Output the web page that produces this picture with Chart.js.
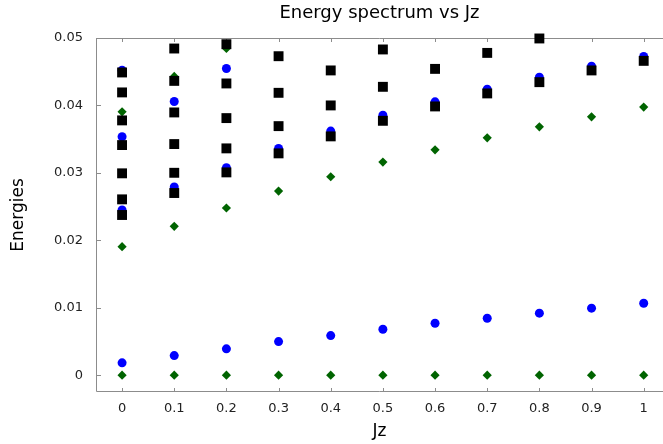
<!DOCTYPE html>
<html>
<head>
<meta charset="utf-8">
<script src="https://cdn.jsdelivr.net/npm/chart.js@4"></script>
<style>
  html, body { margin: 0; padding: 0; background: #fff; overflow: hidden; }
</style>
</head>
<body>
<canvas id="spectrum" width="663" height="444"></canvas>
<script>
// --- DATA ---
const jz = [0, 0.1, 0.2, 0.3, 0.4, 0.5, 0.6, 0.7, 0.8, 0.9, 1];

// energy levels per Jz value, one inner list per column
const blueLevels = [
    [0.00182, 0.02449, 0.03535, 0.04523],
    [0.0029, 0.0279, 0.04059],
    [0.0039, 0.03076, 0.04548],
    [0.00498, 0.03363],
    [0.00587, 0.03619],
    [0.00681, 0.03856],
    [0.0077, 0.04053],
    [0.00844, 0.04241],
    [0.00919, 0.04419],
    [0.00993, 0.04582],
    [0.01067, 0.04726]
];
const greenLevels = [
    [0, 0.01905, 0.03905],
    [0, 0.02207, 0.0443],
    [0, 0.02479, 0.04844],
    [0, 0.0273],
    [0, 0.02942],
    [0, 0.0316],
    [0, 0.03342],
    [0, 0.0352],
    [0, 0.03683],
    [0, 0.03831],
    [0, 0.03975]
];
const blackLevels = [
    [0.02375, 0.02607, 0.02993, 0.03412, 0.03778, 0.04193, 0.04489],
    [0.02701, 0.03001, 0.03427, 0.03896, 0.04364, 0.04844],
    [0.03007, 0.03363, 0.03812, 0.04326, 0.04908],
    [0.03289, 0.03693, 0.04187, 0.0473],
    [0.03541, 0.04, 0.04519],
    [0.03772, 0.04276, 0.0483],
    [0.03985, 0.04542],
    [0.04178, 0.04779],
    [0.04345, 0.04993],
    [0.04519],
    [0.04661]
];

const xTicks = [0, 0.1, 0.2, 0.3, 0.4, 0.5, 0.6, 0.7, 0.8, 0.9, 1];
const xTickLabels = ['0', '0.1', '0.2', '0.3', '0.4', '0.5', '0.6', '0.7', '0.8', '0.9', '1'];
const yTicks = [0, 0.01, 0.02, 0.03, 0.04, 0.05];
const yTickLabels = ['0', '0.01', '0.02', '0.03', '0.04', '0.05'];

function toPoints(levels) {
    return levels.flatMap((col, i) => col.map(e => ({ x: jz[i], y: e })));
}

// frame on top/left/bottom with small inward ticks
const framePlugin = {
    id: 'frame',
    beforeDatasetsDraw(chart) {
        const { ctx, chartArea: a, scales: { x, y } } = chart;
        ctx.save();
        ctx.lineWidth = 1;
        ctx.strokeStyle = '#8c8c8c';
        ctx.beginPath();
        ctx.moveTo(a.right, a.top + 0.5);
        ctx.lineTo(a.left + 0.5, a.top + 0.5);
        ctx.lineTo(a.left + 0.5, a.bottom - 0.5);
        ctx.lineTo(a.right, a.bottom - 0.5);
        x.ticks.forEach(t => {
            const px = Math.round(x.getPixelForValue(t.value)) + 0.5;
            ctx.moveTo(px, a.top);
            ctx.lineTo(px, a.top + 4);
            ctx.moveTo(px, a.bottom);
            ctx.lineTo(px, a.bottom - 4);
        });
        y.ticks.forEach(t => {
            const py = Math.round(y.getPixelForValue(t.value)) + 0.5;
            ctx.moveTo(a.left, py);
            ctx.lineTo(a.left + 5, py);
        });
        ctx.stroke();
        ctx.restore();
    }
};

Chart.defaults.font.family = '"DejaVu Sans", sans-serif';

new Chart(document.getElementById('spectrum'), {
    type: 'scatter',
    data: {
        datasets: [
            {
                label: 'black',
                data: toPoints(blackLevels),
                pointStyle: 'rect',
                radius: 7,
                borderWidth: 0,
                backgroundColor: '#000',
                borderColor: '#000',
                clip: false
            },
            {
                label: 'green',
                data: toPoints(greenLevels),
                pointStyle: 'rectRot',
                radius: 4.6,
                borderWidth: 0,
                backgroundColor: '#006400',
                borderColor: '#006400',
                clip: false
            },
            {
                label: 'blue',
                data: toPoints(blueLevels),
                pointStyle: 'circle',
                radius: 4.5,
                borderWidth: 0,
                backgroundColor: '#0000ff',
                borderColor: '#0000ff',
                clip: false
            }
        ]
    },
    options: {
        responsive: false,
        animation: false,
        devicePixelRatio: 1,
        layout: { padding: 0, autoPadding: false },
        plugins: {
            legend: { display: false },
            tooltip: { enabled: false },
            title: {
                display: true,
                fullSize: false,
                text: 'Energy spectrum vs Jz',
                color: '#000',
                font: { size: 18, weight: 'normal' },
                padding: { top: 3, bottom: 13.4 }
            }
        },
        scales: {
            x: {
                type: 'linear',
                min: -0.05,
                max: 1.037,
                afterBuildTicks: s => { s.ticks = xTicks.map(v => ({ value: v })); },
                afterFit: s => { s.height = 52; s.paddingLeft = 0; s.paddingRight = 0; },
                grid: { display: false, drawTicks: false },
                border: { display: false },
                ticks: {
                    padding: 9,
                    color: '#222',
                    font: { size: 13 },
                    callback: (v, i) => xTickLabels[i]
                },
                title: {
                    display: true,
                    text: 'Jz',
                    color: '#000',
                    font: { size: 17 },
                    padding: { top: 0, bottom: 2 }
                }
            },
            y: {
                type: 'linear',
                min: -0.0025,
                max: 0.05,
                afterBuildTicks: s => { s.ticks = yTicks.map(v => ({ value: v })); },
                afterFit: s => { s.width = 96; },
                grid: { display: false, drawTicks: false },
                border: { display: false },
                ticks: {
                    padding: 13,
                    color: '#222',
                    font: { size: 13 },
                    callback: (v, i) => yTickLabels[i]
                },
                title: {
                    display: true,
                    text: 'Energies',
                    color: '#000',
                    font: { size: 17 },
                    padding: { top: 8, bottom: 0 }
                }
            }
        }
    },
    plugins: [framePlugin]
});
</script>
</body>
</html>
